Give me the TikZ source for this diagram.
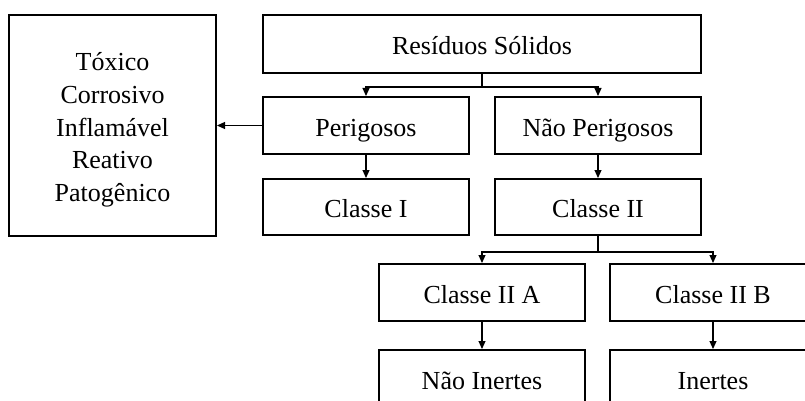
\documentclass[tikz,border=0pt]{standalone}
\usepackage{fontspec}
\setmainfont{Liberation Serif}
\usetikzlibrary{arrows.meta}

\begin{document}
\begin{tikzpicture}[x=1pt, y=-1pt,
    font=\fontsize{26}{32.75}\selectfont,
    framebox/.style={draw, line width=2pt, inner sep=0pt},
    classbox/.style={framebox, minimum width=206pt, minimum height=57pt, text height=21pt, text depth=0pt},
    link/.style={line width=1.1pt, -{Triangle[length=8pt, width=7pt]}}]
  % page frame and clipping
  \useasboundingbox (0,0) rectangle (805,401);
  \clip (0,0) rectangle (805,401);

  % Draw the boxes
  \node[framebox, minimum width=207pt, minimum height=221pt, align=center] (props) at (112.5,125.5)
    {\rule{0pt}{27pt}Tóxico\\Corrosivo\\Inflamável\\Reativo\\Patogênico};
  \node[classbox, minimum width=438pt, minimum height=58pt] (residuos) at (482,44) {Resíduos Sólidos};

  \node[classbox] (perigosos) at (366,125.5) {Perigosos};
  \node[classbox] (naoperigosos) at (598,125.5) {Não Perigosos};

  \node[classbox, minimum height=56pt] (classeI) at (366,207) {Classe I};
  \node[classbox, minimum height=56pt] (classeII) at (598,207) {Classe II};

  \node[classbox] (classeIIA) at (482,292.5) {Classe II A};
  \node[classbox] (classeIIB) at (713,292.5) {Classe II B};

  \node[classbox] (naoinertes) at (482,378.5) {Não Inertes};
  \node[classbox] (inertes) at (713,378.5) {Inertes};

  % Draw the connectors
  \draw[line width=1.1pt] (residuos.south) -- ++(0,13) coordinate (split1);
  \draw[link] (split1) -| (perigosos.north);
  \draw[link] (split1) -| (naoperigosos.north);
  \draw[link] (perigosos.west) -- (props.east);
  \draw[link] (perigosos) -- (classeI);
  \draw[link] (naoperigosos) -- (classeII);

  \draw[line width=1.1pt] (classeII.south) -- ++(0,16) coordinate (split2);
  \draw[link] (split2) -| (classeIIA.north);
  \draw[link] (split2) -| (classeIIB.north);
  \draw[link] (classeIIA) -- (naoinertes);
  \draw[link] (classeIIB) -- (inertes);
\end{tikzpicture}
\end{document}
